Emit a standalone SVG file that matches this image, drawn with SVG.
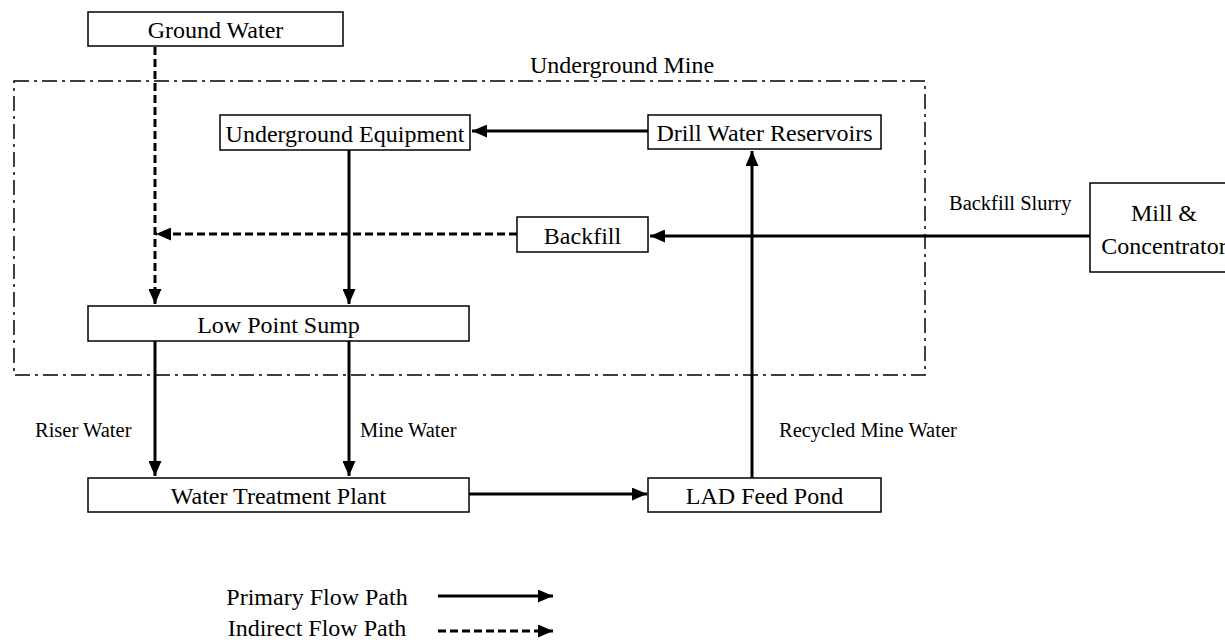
<svg xmlns="http://www.w3.org/2000/svg" width="1225" height="642" viewBox="0 0 1225 642">
<style>
.box{fill:#fff;stroke:#000;stroke-width:1.5}
.t{font-family:"Liberation Serif","Times New Roman",serif;font-size:24px;fill:#000;text-anchor:middle}
.l{font-family:"Liberation Serif","Times New Roman",serif;font-size:20.5px;fill:#000}
.s{fill:none;stroke:#000;stroke-width:3}
.d{fill:none;stroke:#000;stroke-width:3;stroke-dasharray:8 4}
</style>
<defs>
<marker id="ah" markerUnits="userSpaceOnUse" markerWidth="15" markerHeight="13" refX="15" refY="6.5" orient="auto">
<path d="M0,0 L15,6.5 L0,13 Z" fill="#000"/>
</marker>
</defs>
<rect x="0" y="0" width="1225" height="642" fill="#fff"/>
<g id="mine-boundary">
<rect x="14" y="81" width="911" height="294" fill="none" stroke="#000" stroke-width="1.5" stroke-dasharray="15 5 3 5"/>
<text class="t" x="622" y="73">Underground Mine</text>
</g>
<g id="connectors">
<line class="d" x1="155" y1="47" x2="155" y2="304" marker-end="url(#ah)"/>
<line class="d" x1="517" y1="234" x2="156" y2="234" marker-end="url(#ah)"/>
<line class="s" x1="648" y1="131" x2="472" y2="131" marker-end="url(#ah)"/>
<line class="s" x1="349" y1="150" x2="349" y2="304" marker-end="url(#ah)"/>
<line class="s" x1="1090" y1="236" x2="650" y2="236" marker-end="url(#ah)"/>
<line class="s" x1="752" y1="478" x2="752" y2="151" marker-end="url(#ah)"/>
<line class="s" x1="155" y1="341" x2="155" y2="476" marker-end="url(#ah)"/>
<line class="s" x1="349" y1="341" x2="349" y2="476" marker-end="url(#ah)"/>
<line class="s" x1="469" y1="494" x2="647" y2="494" marker-end="url(#ah)"/>
<text class="l" x="35" y="437">Riser Water</text>
<text class="l" x="360" y="437">Mine Water</text>
<text class="l" x="779" y="437">Recycled Mine Water</text>
<text class="l" x="949" y="210">Backfill Slurry</text>
</g>
<g id="ground-water"><rect class="box" x="88" y="12" width="255" height="34"/><text class="t" x="215.5" y="38">Ground Water</text></g>
<g id="underground-equipment"><rect class="box" x="220" y="115" width="250" height="35"/><text class="t" x="345" y="142">Underground Equipment</text></g>
<g id="drill-water-reservoirs"><rect class="box" x="648" y="115" width="233" height="34"/><text class="t" x="764.5" y="141">Drill Water Reservoirs</text></g>
<g id="backfill"><rect class="box" x="517" y="217" width="131" height="35"/><text class="t" x="582.5" y="244">Backfill</text></g>
<g id="mill-concentrator"><rect class="box" x="1090" y="183" width="140" height="89"/><text class="t" x="1164" y="221">Mill &amp;</text><text class="t" x="1164" y="254">Concentrator</text></g>
<g id="low-point-sump"><rect class="box" x="88" y="306" width="381" height="35"/><text class="t" x="278.5" y="333">Low Point Sump</text></g>
<g id="water-treatment-plant"><rect class="box" x="88" y="478" width="381" height="34"/><text class="t" x="278.5" y="504">Water Treatment Plant</text></g>
<g id="lad-feed-pond"><rect class="box" x="648" y="478" width="233" height="34"/><text class="t" x="764.5" y="504">LAD Feed Pond</text></g>
<g id="legend">
<text class="t" x="317" y="605">Primary Flow Path</text>
<line class="s" x1="438" y1="596" x2="553" y2="596" marker-end="url(#ah)"/>
<text class="t" x="317" y="636">Indirect Flow Path</text>
<line class="d" x1="438" y1="631" x2="553" y2="631" marker-end="url(#ah)"/>
</g>
</svg>
